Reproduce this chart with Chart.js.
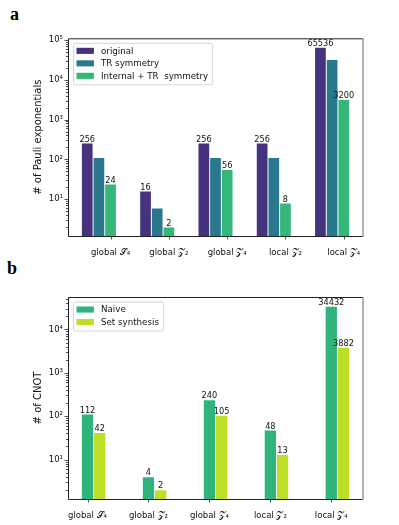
<!DOCTYPE html>
<html>
<head>
<meta charset="utf-8">
<script src="https://cdn.jsdelivr.net/npm/chart.js@4.4.0/dist/chart.umd.min.js"></script>
<style>
    body { margin: 0; background: #fff; width: 399px; height: 525px; position: relative; overflow: hidden; }
    .panel { position: absolute; font: bold 18px "Liberation Serif", serif; color: #000; }
    .wrap { position: absolute; left: 0; width: 399px; }
</style>
</head>
<body>
<div class="panel" style="left:10px;top:4px">a</div>
<div class="panel" style="left:7px;top:258px">b</div>
<div class="wrap" style="top:0;height:262px"><canvas id="chartA" width="399" height="262"></canvas></div>
<div class="wrap" style="top:262px;height:263px"><canvas id="chartB" width="399" height="263"></canvas></div>
<script>
// Data
const categories = ['global 𝒮₄', 'global 𝒵₂', 'global 𝒵₄', 'local 𝒵₂', 'local 𝒵₄'];

// panel a: number of Pauli exponentials
const originalCounts = [256, 16, 256, 256, 65536];
const trCounts = [112, 6, 112, 112, 32000];
const internalTrCounts = [24, 2, 56, 8, 3200];

// panel b: number of CNOTs
const naiveCnot = [112, 4, 240, 48, 34432];
const setSynthCnot = [42, 2, 105, 13, 3882];

// log axis tick labels
const decadeTicks = [10, 100, 1000, 10000, 100000];
const decadeLabels = ['10¹', '10²', '10³', '10⁴', '10⁵'];

Chart.defaults.font.family = 'DejaVu Sans';
Chart.defaults.color = '#111';

// Draw frame, tick marks, value labels and legend box
const figurePlugin = {
    id: 'figure',
    afterDraw(chart, args, opts) {
        const ctx = chart.ctx;
        const area = chart.chartArea;
        const xs = chart.scales.x;
        const ys = chart.scales.y;
        ctx.save();

        // value labels above bars
        ctx.font = '8.2px "DejaVu Sans"';
        ctx.fillStyle = '#111';
        ctx.textAlign = 'center';
        ctx.textBaseline = 'alphabetic';
        opts.labelSets.forEach(i => {
            const meta = chart.getDatasetMeta(i);
            const values = chart.data.datasets[i].data;
            meta.data.forEach((bar, k) => {
                ctx.fillText(String(values[k].y), bar.x, bar.y - 1.5);
            });
        });

        // tick marks
        ctx.strokeStyle = '#222';
        ctx.lineWidth = 0.8;
        ys.ticks.forEach(t => {
            const y = Math.round(ys.getPixelForValue(t.value)) + 0.5;
            const len = t.major ? 3.5 : 2;
            ctx.beginPath();
            ctx.moveTo(area.left - len, y);
            ctx.lineTo(area.left, y);
            ctx.stroke();
        });
        xs.ticks.forEach(t => {
            const x = Math.round(xs.getPixelForValue(t.value)) + 0.5;
            ctx.beginPath();
            ctx.moveTo(x, area.bottom);
            ctx.lineTo(x, area.bottom + 3.5);
            ctx.stroke();
        });

        // frame
        ctx.lineWidth = 1;
        ctx.strokeStyle = '#222';
        ctx.beginPath();
        ctx.moveTo(area.right, area.top + 0.5);
        ctx.lineTo(area.left + 0.5, area.top + 0.5);
        ctx.lineTo(area.left + 0.5, area.bottom + 0.5);
        ctx.lineTo(area.right, area.bottom + 0.5);
        ctx.stroke();
        ctx.strokeStyle = '#999';
        ctx.lineWidth = 1.5;
        ctx.beginPath();
        ctx.moveTo(area.right, area.top);
        ctx.lineTo(area.right, area.bottom + 1);
        ctx.stroke();

        // legend
        const sets = chart.data.datasets;
        ctx.font = '8.7px "DejaVu Sans"';
        let textW = 0;
        sets.forEach(d => { textW = Math.max(textW, ctx.measureText(d.label).width); });
        const bx = area.left + 5, by = area.top + 4.5;
        const rowH = 12.5;
        const bw = 28 + textW + 4, bh = sets.length * rowH + 4;
        ctx.fillStyle = 'rgba(255,255,255,0.85)';
        ctx.strokeStyle = '#d6d6d6';
        ctx.lineWidth = 1;
        ctx.beginPath();
        ctx.roundRect(bx + 0.5, by + 0.5, bw, bh, 2);
        ctx.fill();
        ctx.stroke();
        ctx.textAlign = 'left';
        ctx.textBaseline = 'middle';
        sets.forEach((d, i) => {
            const cy = by + 8 + i * rowH;
            ctx.fillStyle = d.backgroundColor;
            ctx.fillRect(bx + 3.5, cy - 3, 17.4, 6.1);
            ctx.fillStyle = '#111';
            ctx.fillText(d.label, bx + 28, cy + 0.5);
        });
        ctx.restore();
    }
};

function toPoints(values, offset) {
    return values.map((v, i) => ({ x: i + offset, y: v }));
}

function buildLogTicks(scale) {
    const ticks = [];
    for (let d = 1; d <= 100000; d *= 10) {
        for (let k = 1; k <= 9; k++) {
            const v = k * d;
            if (v >= scale.min && v <= scale.max) ticks.push({ value: v, major: k === 1 });
        }
    }
    scale.ticks = ticks;
}

function makeChart(id, datasets, xRange, yRange, padTop, title, labelSets) {
    return new Chart(document.getElementById(id), {
        type: 'bar',
        data: { datasets: datasets },
        options: {
            responsive: false,
            animation: false,
            layout: { padding: { left: 32.5, right: 36, top: padTop, bottom: 0 } },
            datasets: { bar: { grouped: false, barPercentage: 1, categoryPercentage: 1, borderWidth: 0.8, borderColor: 'rgba(255,255,255,0.55)' } },
            scales: {
                x: {
                    type: 'linear',
                    offset: false,
                    min: xRange[0],
                    max: xRange[1],
                    grid: { display: false, drawTicks: false, tickLength: 0 },
                    border: { display: false },
                    afterBuildTicks: s => { s.ticks = categories.map((c, i) => ({ value: i })); },
                    afterFit: s => { s.height = 26; },
                    ticks: {
                        autoSkip: false,
                        maxRotation: 0,
                        padding: 12,
                        font: { size: 8.5 },
                        callback: (v, i) => categories[i]
                    }
                },
                y: {
                    type: 'logarithmic',
                    min: yRange[0],
                    max: yRange[1],
                    grid: { display: false, drawTicks: false, tickLength: 0 },
                    border: { display: false },
                    afterBuildTicks: buildLogTicks,
                    afterFit: s => { s.width = 35.5; },
                    title: { display: true, text: title, font: { size: 10 }, padding: 0 },
                    ticks: {
                        autoSkip: false,
                        padding: 5,
                        font: { size: 8.5 },
                        callback: v => {
                            const i = decadeTicks.indexOf(v);
                            return i >= 0 ? decadeLabels[i] : '';
                        }
                    }
                }
            },
            plugins: {
                legend: { display: false },
                tooltip: { enabled: false },
                figure: { labelSets: labelSets }
            }
        },
        plugins: [figurePlugin]
    });
}

makeChart('chartA', [
    { label: 'original', data: toPoints(originalCounts, -0.4), backgroundColor: '#46337e' },
    { label: 'TR symmetry', data: toPoints(trCounts, -0.2), backgroundColor: '#2a788e' },
    { label: 'Internal + TR  symmetry', data: toPoints(internalTrCounts, 0), backgroundColor: '#35b779' }
], [-0.73, 4.33], [1.19, 110000], 38.3, '# of Pauli exponentials', [0, 2]);

makeChart('chartB', [
    { label: 'Naive', data: toPoints(naiveCnot, 0), backgroundColor: '#2fb47c' },
    { label: 'Set synthesis', data: toPoints(setSynthCnot, 0.2), backgroundColor: '#bddf26' }
], [-0.32, 4.52], [1.23, 56100], 35, '# of CNOT', [0, 1]);
</script>
</body>
</html>
